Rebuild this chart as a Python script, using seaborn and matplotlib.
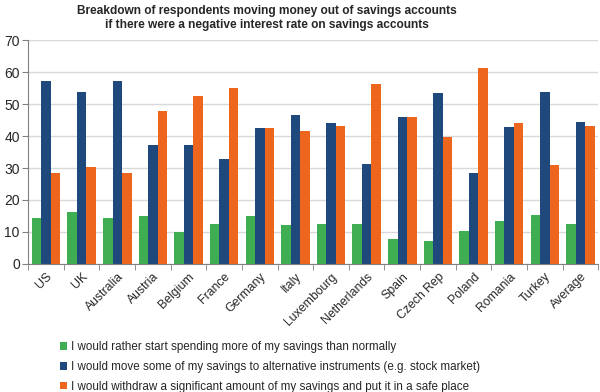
import numpy as np
import pandas as pd
import matplotlib
matplotlib.use("Agg")
import matplotlib.pyplot as plt
import seaborn as sns

countries = ["US", "UK", "Australia", "Austria", "Belgium", "France", "Germany",
             "Italy", "Luxembourg", "Netherlands", "Spain", "Czech Rep", "Poland",
             "Romania", "Turkey", "Average"]

spend_more = [14.2, 16.2, 14.2, 14.9, 10.1, 12.4, 14.9, 12.1, 12.5, 12.5,
              7.9, 7.0, 10.2, 13.3, 15.3, 12.5]
move_alt = [57.4, 53.8, 57.4, 37.3, 37.3, 32.9, 42.5, 46.5, 44.2, 31.4,
            46.1, 53.5, 28.6, 42.9, 53.9, 44.3]
withdraw = [28.5, 30.3, 28.5, 47.9, 52.7, 55.0, 42.5, 41.5, 43.3, 56.3,
            46.1, 39.6, 61.3, 44.0, 30.9, 43.3]

series_names = [
    "I would rather start spending more of my savings than normally",
    "I would move some of my savings to alternative instruments (e.g. stock market)",
    "I would withdraw a significant amount of my savings and put it in a safe place",
]
colors = ["#3fae52", "#1f497d", "#ee661e"]

df = pd.DataFrame({
    "country": countries * 3,
    "value": spend_more + move_alt + withdraw,
    "series": [series_names[0]] * 16 + [series_names[1]] * 16 + [series_names[2]] * 16,
})

sns.set_style("white")
plt.rcParams["font.family"] = ["Liberation Sans", "DejaVu Sans"]

fig = plt.figure(figsize=(6, 3.92), dpi=100)
ax = fig.add_axes([0.047, 0.327, 0.95, 0.57])

sns.barplot(data=df, x="country", y="value", hue="series", palette=colors,
            saturation=1, width=0.8, gap=0, ax=ax, linewidth=0, legend=True)

ax.set_ylim(0, 70)
ax.set_xlim(-0.5, len(countries) - 0.5)
ax.set_yticks(range(0, 71, 10))
ax.yaxis.grid(True, color="#d9d9d9", linewidth=1)
ax.set_axisbelow(True)
ax.set_xlabel("")
ax.set_ylabel("")

for side in ["top", "right"]:
    ax.spines[side].set_visible(False)
ax.spines["left"].set_color("#808080")
ax.spines["bottom"].set_color("#808080")

ax.tick_params(axis="y", labelsize=10, length=4, color="#808080", left=True, pad=2)
ax.set_xticks(np.arange(len(countries)))
ax.set_xticklabels(countries, rotation=45, ha="right", rotation_mode="anchor",
                   fontsize=8.8)
ax.tick_params(axis="x", length=0, pad=5)
ax.set_xticks(np.arange(-0.5, len(countries)), minor=True)
ax.tick_params(axis="x", which="minor", length=4, color="#808080", bottom=True)

ax.set_title("Breakdown of respondents moving money out of savings accounts\n"
             "if there were a negative interest rate on savings accounts",
             fontsize=8.6, fontweight="bold", pad=9, linespacing=1.2, x=0.418)

handles, labels = ax.get_legend_handles_labels()
ax.get_legend().remove()
fig.legend(handles, labels, loc="upper left", bbox_to_anchor=(0.093, 0.142),
           frameon=False, fontsize=8.4, handlelength=0.6, handleheight=0.6,
           handletextpad=0.3, labelspacing=0.68, borderaxespad=0)

fig.savefig("out.png", dpi=100)
plt.close(fig)
